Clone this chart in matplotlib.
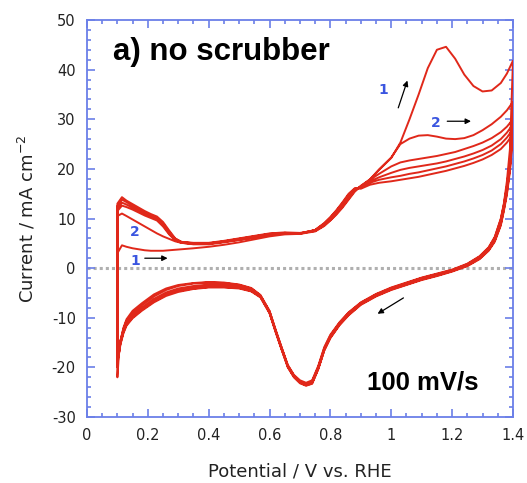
import matplotlib
matplotlib.use("Agg")
import matplotlib.pyplot as plt
from matplotlib.ticker import MultipleLocator

plt.rcParams["axes.unicode_minus"] = False

# Forward (anodic) sweep potentials, V vs RHE
V_fwd = [0.10, 0.115, 0.13, 0.15, 0.17, 0.19, 0.21, 0.23, 0.25, 0.27, 0.29, 0.31, 0.35, 0.40,
         0.45, 0.50, 0.55, 0.60, 0.65, 0.70, 0.75, 0.78, 0.80, 0.82, 0.84, 0.86, 0.88, 0.90,
         0.93, 0.96, 1.00, 1.03, 1.06, 1.09, 1.12, 1.15, 1.18, 1.21, 1.24, 1.27, 1.30, 1.33,
         1.36, 1.38, 1.40]

# Forward currents (mA cm^-2) for cycles 1..6
I_fwd_1 = [3.0, 4.6, 4.3, 4.0, 3.8, 3.6, 3.5, 3.5, 3.5, 3.6, 3.7, 3.8, 4.0, 4.3,
           4.7, 5.2, 5.8, 6.4, 6.8, 6.9, 7.4, 8.5, 9.6, 10.8, 12.2, 13.8, 15.4, 16.5,
           17.8, 19.8, 22.2, 25.3, 30.0, 35.0, 40.3, 44.0, 44.6, 42.2, 39.0, 36.7, 35.6, 35.8,
           37.3, 39.2, 41.8]
I_fwd_2 = [10.5, 11.0, 10.5, 9.8, 9.1, 8.4, 7.7, 7.0, 6.4, 5.9, 5.4, 5.1, 4.9, 5.0,
           5.3, 5.7, 6.2, 6.7, 7.0, 7.0, 7.5, 8.6, 9.7, 11.0, 12.4, 14.0, 15.6, 16.6,
           17.9, 19.9, 22.3, 25.0, 26.1, 26.7, 26.8, 26.5, 26.1, 26.0, 26.2, 26.8, 27.8, 29.0,
           30.5, 31.8, 33.5]
I_fwd_3 = [13.0, 14.3, 13.6, 12.9, 12.2, 11.5, 10.9, 10.4, 9.3, 7.6, 6.0, 5.3, 5.1, 5.1,
           5.5, 6.0, 6.5, 7.0, 7.2, 7.1, 7.6, 8.8, 10.0, 11.4, 12.8, 14.5, 15.8, 16.4,
           17.8, 19.0, 20.5, 21.3, 21.7, 22.0, 22.3, 22.6, 23.0, 23.4, 24.0, 24.6, 25.3, 26.2,
           27.4, 28.5, 30.0]
I_fwd_4 = [12.5, 13.8, 13.3, 12.6, 11.9, 11.2, 10.6, 10.1, 9.0, 7.3, 5.9, 5.3, 5.0, 5.0,
           5.4, 5.9, 6.4, 6.9, 7.1, 7.0, 7.6, 8.8, 10.0, 11.4, 12.9, 14.6, 15.9, 16.3,
           17.5, 18.3, 19.2, 19.8, 20.2, 20.5, 20.8, 21.1, 21.5, 22.0, 22.5, 23.1, 23.8, 24.7,
           26.0, 27.3, 29.0]
I_fwd_5 = [12.0, 13.2, 12.8, 12.2, 11.6, 11.0, 10.4, 9.9, 8.7, 7.0, 5.7, 5.2, 4.9, 4.9,
           5.3, 5.8, 6.3, 6.8, 7.1, 7.0, 7.7, 9.0, 10.2, 11.6, 13.1, 14.8, 16.0, 16.2,
           17.2, 17.8, 18.3, 18.6, 19.0, 19.3, 19.7, 20.1, 20.5, 21.0, 21.5, 22.1, 22.8, 23.7,
           25.0, 26.3, 28.0]
I_fwd_6 = [11.5, 12.6, 12.3, 11.8, 11.2, 10.6, 10.1, 9.6, 8.4, 6.8, 5.6, 5.1, 4.8, 4.8,
           5.2, 5.7, 6.2, 6.7, 7.0, 6.9, 7.7, 9.1, 10.3, 11.7, 13.3, 15.0, 16.1, 16.0,
           16.8, 17.2, 17.5, 17.8, 18.1, 18.4, 18.8, 19.2, 19.6, 20.1, 20.6, 21.2, 21.9, 22.8,
           24.0, 25.3, 27.0]

# Reverse (cathodic) sweep potentials
V_rev = [1.40, 1.39, 1.38, 1.37, 1.36, 1.34, 1.32, 1.29, 1.25, 1.20, 1.15, 1.10, 1.05, 1.00,
         0.95, 0.90, 0.86, 0.83, 0.80, 0.78, 0.76, 0.74, 0.72, 0.70, 0.68, 0.66, 0.64, 0.62,
         0.60, 0.57, 0.54, 0.50, 0.45, 0.40, 0.35, 0.30, 0.26, 0.22, 0.18, 0.15, 0.13, 0.12,
         0.11, 0.105, 0.10]

I_rev_1 = [41.8, 24.0, 17.5, 13.0, 10.0, 6.3, 4.2, 2.4, 0.9, -0.3, -1.1, -1.9, -2.9, -3.9,
           -5.2, -6.9, -8.9, -10.9, -13.4, -15.9, -19.7, -22.6, -23.1, -22.6, -21.5, -19.5, -16.0, -12.4,
           -8.6, -5.4, -4.0, -3.3, -2.9, -2.8, -3.0, -3.4, -4.1, -5.3, -7.1, -8.6, -10.3, -12.0,
           -14.7, -17.3, -22.0]
I_rev_2 = [33.5, 22.0, 16.5, 12.8, 9.8, 6.1, 4.1, 2.3, 0.8, -0.4, -1.2, -2.0, -3.0, -4.0,
           -5.3, -7.0, -9.0, -11.0, -13.6, -16.1, -19.9, -22.8, -23.3, -22.8, -21.6, -19.6, -16.1, -12.5,
           -8.7, -5.5, -4.1, -3.4, -3.0, -2.9, -3.1, -3.6, -4.4, -5.7, -7.5, -9.0, -10.6, -12.2,
           -14.6, -16.8, -20.0]
I_rev_3 = [30.0, 21.0, 16.0, 12.3, 9.3, 5.8, 3.9, 2.1, 0.7, -0.5, -1.3, -2.1, -3.1, -4.1,
           -5.4, -7.1, -9.2, -11.2, -13.8, -16.3, -20.1, -23.0, -23.4, -22.9, -21.7, -19.7, -16.2, -12.6,
           -8.8, -5.6, -4.3, -3.6, -3.3, -3.3, -3.6, -4.1, -4.9, -6.2, -8.0, -9.5, -11.0, -12.5,
           -14.8, -16.8, -19.0]
I_rev_4 = [29.0, 20.5, 15.5, 12.0, 9.0, 5.6, 3.7, 2.0, 0.6, -0.5, -1.4, -2.2, -3.2, -4.2,
           -5.5, -7.2, -9.3, -11.3, -13.9, -16.4, -20.2, -23.1, -23.5, -23.0, -21.8, -19.8, -16.3, -12.7,
           -8.9, -5.7, -4.5, -3.8, -3.6, -3.6, -3.9, -4.4, -5.2, -6.5, -8.2, -9.7, -11.2, -12.7,
           -15.0, -17.0, -18.5]
I_rev_5 = [28.0, 20.0, 15.2, 11.8, 8.8, 5.5, 3.6, 1.9, 0.5, -0.6, -1.5, -2.3, -3.3, -4.3,
           -5.6, -7.3, -9.4, -11.4, -14.0, -16.5, -20.3, -23.2, -23.6, -23.1, -21.9, -19.9, -16.4, -12.8,
           -9.0, -5.8, -4.6, -4.0, -3.8, -3.8, -4.1, -4.6, -5.4, -6.7, -8.4, -9.9, -11.4, -12.9,
           -15.2, -17.2, -18.0]
I_rev_6 = [27.0, 19.5, 14.8, 11.5, 8.6, 5.3, 3.5, 1.8, 0.4, -0.7, -1.6, -2.4, -3.4, -4.4,
           -5.7, -7.4, -9.5, -11.5, -14.1, -16.6, -20.4, -23.3, -23.7, -23.2, -22.0, -20.0, -16.5, -12.9,
           -9.1, -5.9, -4.7, -4.1, -3.9, -3.9, -4.2, -4.8, -5.6, -6.9, -8.6, -10.1, -11.6, -13.1,
           -15.4, -17.4, -17.5]

cycles_fwd = [I_fwd_1, I_fwd_2, I_fwd_3, I_fwd_4, I_fwd_5, I_fwd_6]
cycles_rev = [I_rev_1, I_rev_2, I_rev_3, I_rev_4, I_rev_5, I_rev_6]

RED = "#e0281a"
BLUE = "#6b7fe8"

fig = plt.figure(figsize=(5.27, 4.83), dpi=100)
ax = fig.add_axes([0.165, 0.1366, 0.8084, 0.822])

# zero line
ax.axhline(0, color="#b0b0b0", lw=2.2, ls=(0, (1, 1)), zorder=1)

V_all, I_all = [], []
for f, r in zip(cycles_fwd, cycles_rev):
    V_all += V_fwd + V_rev
    I_all += f + r
ax.plot(V_all, I_all, color=RED, lw=1.4, zorder=3, solid_joinstyle="round")

ax.set_xlim(0, 1.4)
ax.set_ylim(-30, 50)
ax.xaxis.set_minor_locator(MultipleLocator(0.05))
ax.yaxis.set_major_locator(MultipleLocator(10))
ax.yaxis.set_minor_locator(MultipleLocator(2))
ax.set_xticks([0, 0.2, 0.4, 0.6, 0.8, 1.0, 1.2, 1.4])
ax.set_xticklabels(["0", "0.2", "0.4", "0.6", "0.8", "1", "1.2", "1.4"])
ax.tick_params(which="both", direction="in", top=True, right=True, color=BLUE,
               labelsize=10.5, labelcolor="#222222", width=1.2)
ax.tick_params(which="major", length=6, pad=8)
ax.tick_params(which="minor", length=3)
for s in ax.spines.values():
    s.set_color(BLUE)
    s.set_linewidth(1.3)

ax.set_xlabel("Potential / V vs. RHE", fontsize=13, color="#222222", labelpad=14)
ax.set_ylabel("Current / mA cm$^{-2}$", fontsize=13, color="#222222", labelpad=10)

ax.text(0.086, 43.6, "a) no scrubber", fontsize=22.5, fontweight="bold",
        family="Liberation Sans", ha="left", va="center")
ax.text(0.921, -23.0, "100 mV/s", fontsize=18.5, fontweight="bold",
        family="Liberation Sans", ha="left", va="center")

# cycle labels
NUMC = "#3a55e0"
for x, y, s in [(0.974, 35.8, "1"), (1.145, 29.2, "2"), (0.158, 7.3, "2"), (0.158, 1.5, "1")]:
    ax.text(x, y, s, color=NUMC, fontsize=10, fontweight="bold", ha="center", va="center")

arrow_kw = dict(arrowstyle="-|>", color="black", lw=0.9, mutation_scale=8, shrinkA=0, shrinkB=0)
ax.annotate("", xy=(1.053, 37.8), xytext=(1.023, 32.3), arrowprops=arrow_kw)
ax.annotate("", xy=(1.262, 29.6), xytext=(1.184, 29.6), arrowprops=arrow_kw)
ax.annotate("", xy=(0.265, 2.0), xytext=(0.19, 2.0), arrowprops=arrow_kw)
ax.annotate("", xy=(0.955, -9.2), xytext=(1.04, -6.0), arrowprops=arrow_kw)

fig.savefig("out.png", dpi=100)
